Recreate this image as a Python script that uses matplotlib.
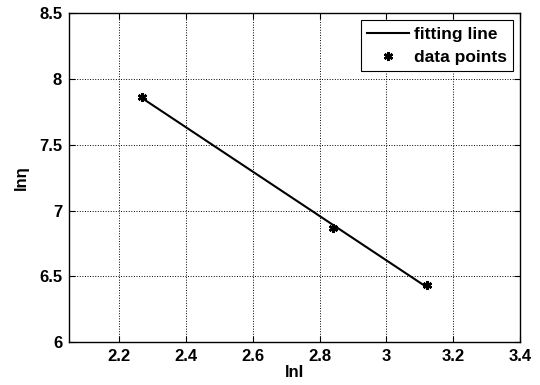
import matplotlib
matplotlib.use('Agg')
import matplotlib.pyplot as plt

# data
data_x = [2.267, 2.839, 3.120]
data_y = [7.865, 6.864, 6.432]
fit_x = [2.267, 3.120]
fit_y = [7.858, 6.418]

xticks = [2.2, 2.4, 2.6, 2.8, 3.0, 3.2, 3.4]
xtick_labels = ['2.2', '2.4', '2.6', '2.8', '3', '3.2', '3.4']
yticks = [6, 6.5, 7, 7.5, 8, 8.5]
ytick_labels = ['6', '6.5', '7', '7.5', '8', '8.5']

plt.rcParams['font.family'] = ['Liberation Sans', 'DejaVu Sans']
plt.rcParams['font.weight'] = 'bold'

fig = plt.figure(figsize=(5.4, 3.85), dpi=100)
ax = fig.add_axes([0.128, 0.112, 0.835, 0.853])

ax.plot(fit_x, fit_y, color='black', linewidth=1.5, label='fitting line')
ax.plot(data_x, data_y, linestyle='none', marker=(6, 2, 0), markersize=6.5,
        markeredgewidth=1.8, color='black', label='data points')

ax.set_xlim(2.05, 3.4)
ax.set_ylim(6, 8.5)
ax.set_xticks(xticks)
ax.set_xticklabels(xtick_labels)
ax.set_yticks(yticks)
ax.set_yticklabels(ytick_labels)
ax.tick_params(direction='in', top=True, right=True, length=4, width=0.8,
               labelsize=12, pad=5)
for lab in ax.get_xticklabels() + ax.get_yticklabels():
    lab.set_fontweight('bold')
for s in ax.spines.values():
    s.set_linewidth(1.0)

ax.grid(True, linestyle=':', color='black', linewidth=0.7)

ax.set_xlabel('lnI', fontsize=12, fontweight='bold', labelpad=1)
ax.set_ylabel('ln\u03b7', fontsize=12, fontweight='bold', labelpad=7)

leg = ax.legend(loc='upper right', prop={'size': 12.5, 'weight': 'bold'},
                fancybox=False, edgecolor='black', framealpha=1,
                handlelength=2.4, borderaxespad=0.4, handletextpad=0.3,
                labelspacing=0.45, borderpad=0.35)
leg.get_frame().set_linewidth(0.8)

fig.savefig('out.png', dpi=100)
